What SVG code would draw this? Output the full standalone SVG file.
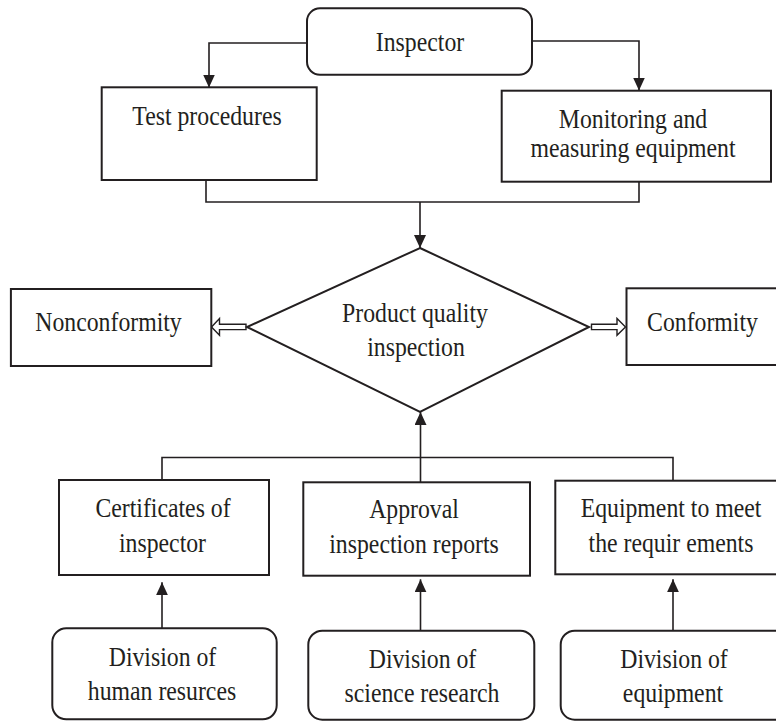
<svg xmlns="http://www.w3.org/2000/svg" width="776" height="721" viewBox="0 0 776 721">
<style>
.box{fill:#fff;stroke:#231f20;stroke-width:2}
.ln{fill:none;stroke:#231f20;stroke-width:1.6}
.ho{fill:#fff;stroke:#231f20;stroke-width:1.4;stroke-linejoin:miter}
.t{font-family:"Liberation Serif","Times New Roman",serif;font-size:27px;fill:#231f20;text-anchor:middle}
</style>
<defs>
<marker id="ah" markerUnits="userSpaceOnUse" markerWidth="13" markerHeight="12" refX="13" refY="6" orient="auto">
<path d="M0,0 L13,6 L0,12 Z" fill="#231f20"/>
</marker>
</defs>
<rect width="776" height="721" fill="#fff"/>
<g id="connectors">
<path class="ln" d="M307,43 H209 V87.5" marker-end="url(#ah)"/>
<path class="ln" d="M532,41 H639 V90.5" marker-end="url(#ah)"/>
<path class="ln" d="M206,180 V202 H639 V181.7"/>
<path class="ln" d="M420,202 V248" marker-end="url(#ah)"/>
<path class="ln" d="M420.5,482.3 V457.5"/>
<path class="ln" d="M420.5,457.5 V412" marker-end="url(#ah)"/>
<path class="ln" d="M162,480 V457.5 H673 V480.7"/>
<path class="ln" d="M162,628.3 V582.3" marker-end="url(#ah)"/>
<path class="ln" d="M420.5,630.7 V579.3" marker-end="url(#ah)"/>
<path class="ln" d="M673,630.7 V579.3" marker-end="url(#ah)"/>
<polygon class="ho" points="246,324.2 219.5,324.2 219.5,318.5 211.5,327 219.5,335.3 219.5,329.6 246,329.6"/>
<polygon class="ho" points="591.5,324.2 617,324.2 617,318.5 625.5,327 617,335.3 617,329.6 591.5,329.6"/>
</g>
<g id="inspector">
<rect class="box" x="307" y="8.3" width="225" height="66.5" rx="13"/>
<text class="t" transform="translate(420 51) scale(.88 1)">Inspector</text>
</g>
<g id="test-procedures">
<rect class="box" x="101.7" y="87.3" width="215" height="92.7"/>
<text class="t" transform="translate(207 125) scale(.88 1)">Test procedures</text>
</g>
<g id="monitoring">
<rect class="box" x="501.7" y="90.7" width="269.3" height="91"/>
<text class="t" transform="translate(633 128) scale(.88 1)">Monitoring and</text>
<text class="t" transform="translate(633 157.3) scale(.88 1)">measuring equipment</text>
</g>
<g id="product-quality-inspection">
<polygon class="box" points="420,248 589,327 420,412 247,327"/>
<text class="t" transform="translate(415 322) scale(.88 1)">Product quality</text>
<text class="t" transform="translate(416 356) scale(.88 1)">inspection</text>
</g>
<g id="nonconformity">
<rect class="box" x="10.9" y="289" width="200.4" height="77"/>
<text class="t" transform="translate(108.5 331) scale(.88 1)">Nonconformity</text>
</g>
<g id="conformity">
<rect class="box" x="626.5" y="288.3" width="160" height="76.7"/>
<text class="t" transform="translate(702.5 331) scale(.88 1)">Conformity</text>
</g>
<g id="certificates">
<rect class="box" x="59" y="480" width="210" height="95"/>
<text class="t" transform="translate(163 517) scale(.88 1)">Certificates of</text>
<text class="t" transform="translate(162.5 552) scale(.88 1)">inspector</text>
</g>
<g id="approval">
<rect class="box" x="303.3" y="482.3" width="226.7" height="93.4"/>
<text class="t" transform="translate(414 518) scale(.88 1)">Approval</text>
<text class="t" transform="translate(414 553) scale(.88 1)">inspection reports</text>
</g>
<g id="equipment-requirements">
<rect class="box" x="555.3" y="480.7" width="230" height="93.6"/>
<text class="t" transform="translate(671 517) scale(.88 1)">Equipment to meet</text>
<text class="t" transform="translate(671 552) scale(.88 1)">the requir ements</text>
</g>
<g id="division-hr">
<rect class="box" x="52.3" y="628.3" width="224.4" height="91" rx="14"/>
<text class="t" transform="translate(162.5 666) scale(.88 1)">Division of</text>
<text class="t" transform="translate(162 700) scale(.88 1)">human resurces</text>
</g>
<g id="division-science">
<rect class="box" x="308.3" y="630.7" width="226" height="89" rx="14"/>
<text class="t" transform="translate(422.5 667.5) scale(.88 1)">Division of</text>
<text class="t" transform="translate(422 701.5) scale(.88 1)">science research</text>
</g>
<g id="division-equipment">
<rect class="box" x="560.7" y="630.7" width="230" height="89" rx="14"/>
<text class="t" transform="translate(674 667.5) scale(.88 1)">Division of</text>
<text class="t" transform="translate(673 701.5) scale(.88 1)">equipment</text>
</g>
</svg>
